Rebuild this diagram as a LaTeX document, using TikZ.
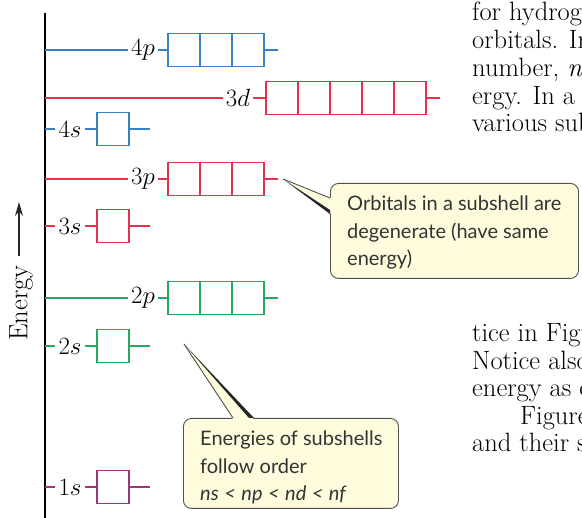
\documentclass[tikz,border=0pt]{standalone}
\usepackage{fontspec}
\newfontfamily\notefont{Lato}
\usetikzlibrary{arrows.meta,positioning,calc}
\definecolor{orbblue}{RGB}{55,128,198}
\definecolor{orbred}{RGB}{232,48,78}
\definecolor{orbgreen}{RGB}{38,168,100}
\definecolor{orbpurple}{RGB}{158,52,122}
\definecolor{notefill}{RGB}{255,252,222}
\definecolor{notedraw}{RGB}{80,80,80}
\newcommand{\ltsp}{\hspace{5.5pt}<\hspace{5.5pt}}

\begin{document}
\begin{tikzpicture}[
    x=1pt, y=-1pt,
    >=Stealth,
    lvl/.style={inner sep=3pt, font=\fontsize{25}{28}\selectfont},
    orb/.style={rectangle, draw=#1, line width=1.4pt, minimum width=32pt,
                minimum height=33pt, inner sep=0pt},
    lvlline/.style={line width=1.3pt, color=#1},
    note/.style={rectangle, rounded corners=8pt, draw=notedraw, fill=notefill,
                 line width=0.9pt, inner sep=0pt, anchor=north west},
    notetxt/.style={inner sep=0pt, anchor=north west, align=left,
                    font=\notefont\fontsize{20}{27.5}\selectfont, color=black!80},
    bodytxt/.style={inner sep=0pt, anchor=base west, font=\fontsize{26.5}{28}\selectfont},
]
\useasboundingbox (0,0) rectangle (582,518);
\clip (0,0) rectangle (582,518);

% === Energy axis ===
\coordinate (axtop) at (45,13);
\coordinate (axbot) at (45,518);
\draw[line width=1.3pt] (axtop) -- (axbot);

\node[lvl, rotate=90, font=\fontsize{26.5}{28}\selectfont] (energy) at (21,303) {Energy};
\coordinate (arrhi) at (19,202);
\draw[->, line width=1.2pt, black!85, >={Stealth[length=14pt,width=8pt]}]
    ($(energy.east -| arrhi)+(0,-6)$) -- (arrhi);

% === Subshell levels ===
\foreach \nm/\yy/\lx/\bx/\nb/\tx/\col in {
    4p/50/143/168/3/278/orbblue, 3d/98/238/266/5/440/orbred,
    4s/129/70/97/1/150/orbblue, 3p/179/143/168/3/278/orbred,
    3s/226/70/97/1/150/orbred, 2p/298/143/168/3/278/orbgreen,
    2s/346/70/97/1/150/orbgreen, 1s/487/70/97/1/150/orbpurple}{
  \coordinate (ax\nm) at (45,\yy);
  \node[lvl] (lbl\nm) at (\lx,\yy) {$\nm$};
  \foreach \i in {1,...,\nb}
    \node[orb=\col] (orb\nm-\i) at ({\bx+32*\i-16},\yy) {};
  \coordinate (end\nm) at (\tx,\yy);
  \draw[lvlline=\col] (ax\nm) -- (lbl\nm.west)
      (lbl\nm.east) -- (orb\nm-1.west) (orb\nm-\nb.east) -- (end\nm);
}

% === Callout: degenerate orbitals ===
\node[note, minimum width=248pt, minimum height=95pt] (degbox) at (330,183) {};
\node[notetxt] (degtxt) at (347,196) {Orbitals in a subshell are\\
    degenerate (have same\\energy)};
\coordinate (degtip) at (283,179);
\fill[notefill] ($(degbox.north west)+(1.5,15)$) -- (degtip)
    -- ($(degbox.north west)+(1.5,31)$) -- cycle;
\draw[notedraw, line width=0.9pt] ($(degbox.north west)+(0,15)$) -- (degtip);
\fill[black!85] (degtip) -- ($(degbox.north west)+(0,27)$)
    -- ($(degbox.north west)+(0,31)$) -- cycle;

% === Callout: subshell order ===
\node[note, minimum width=215pt, minimum height=90pt] (ordbox) at (183,418) {};
\node[notetxt] (ordtxt) at (200,431) {Energies of subshells\\
    follow order\\\textit{ns\ltsp np\ltsp nd\ltsp nf}};
\coordinate (ordtip) at (184,344);
\fill[notefill] ($(ordbox.north west)+(50,1.5)$) -- (ordtip)
    -- ($(ordbox.north west)+(71,1.5)$) -- cycle;
\draw[notedraw, line width=0.9pt] ($(ordbox.north west)+(50,0)$) -- (ordtip);
\fill[black!85] (ordtip) -- ($(ordbox.north west)+(66,0)$)
    -- ($(ordbox.north west)+(71,0)$) -- cycle;

% === Running text ===
\node[bodytxt] (txt1) at (472,21) {for hydrogen};
\node[bodytxt] (txt2) at (472,49) {orbitals. In a};
\node[bodytxt] (txt3) at (472,77) {number, \textit{n}, the};
\node[bodytxt] (txt4) at (472,104.5) {ergy. In a};
\node[bodytxt] (txt5) at (472,132) {various subshells};
\node[bodytxt] (txt6) at (472,342) {tice in Figure};
\node[bodytxt] (txt7) at (472,369.5) {Notice also};
\node[bodytxt] (txt8) at (472,397) {energy as one};
\node[bodytxt] (txt9) at (520,424.5) {Figure};
\node[bodytxt] (txt10) at (472,452) {and their subshells};

\end{tikzpicture}
\end{document}
